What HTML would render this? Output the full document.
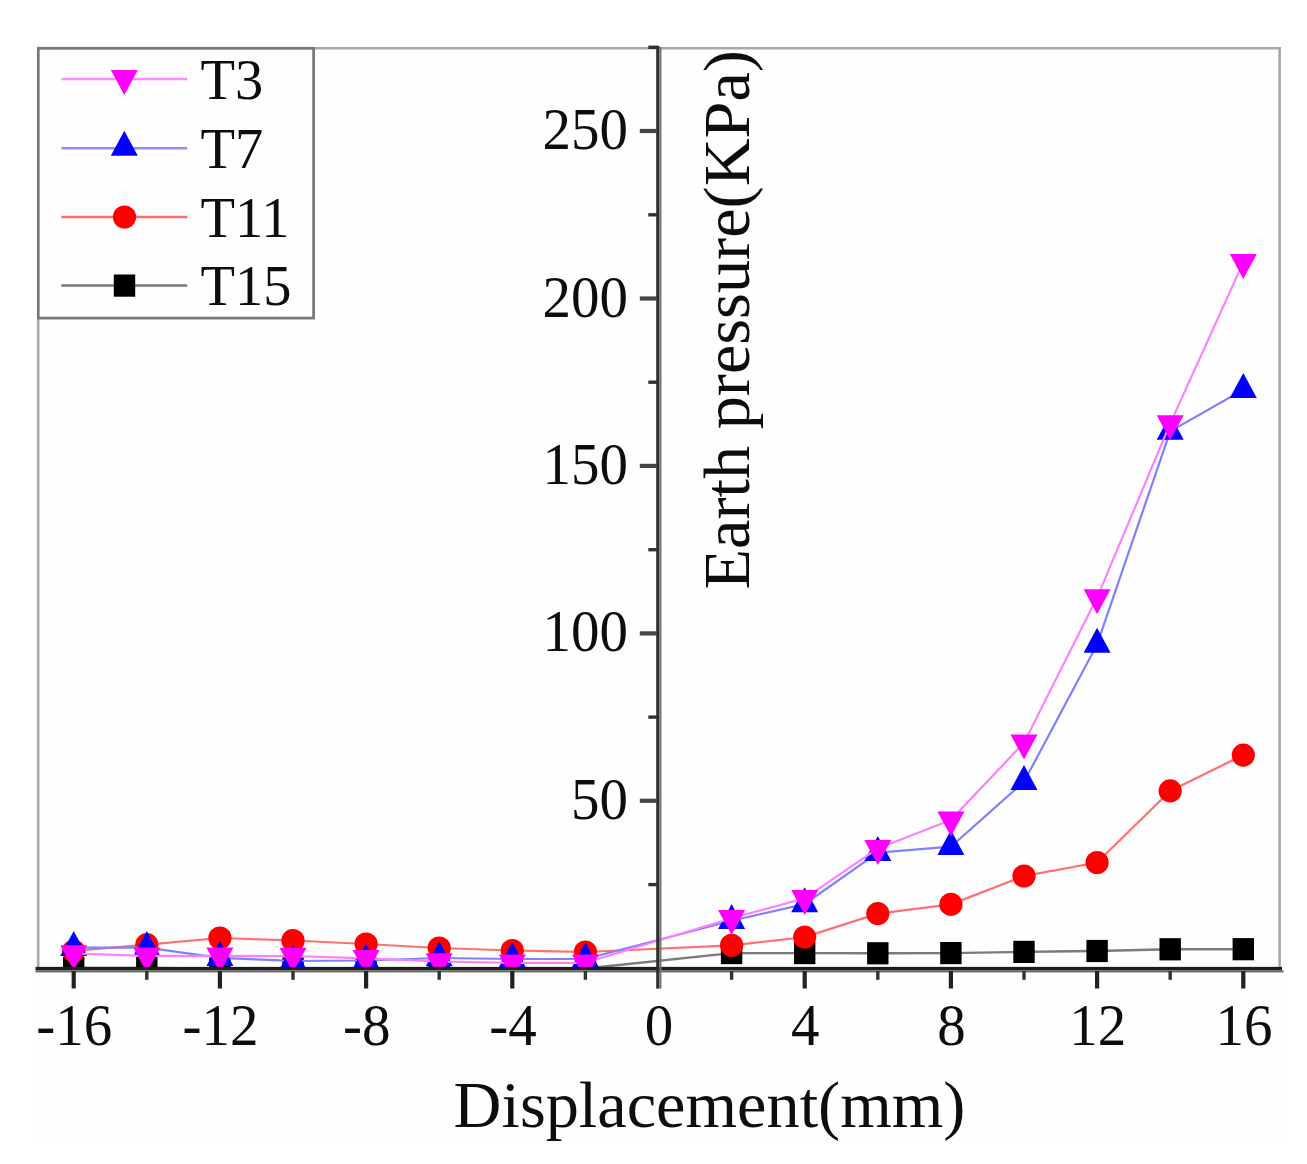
<!DOCTYPE html>
<html><head><meta charset="utf-8"><title>Earth pressure vs displacement</title>
<style>
html,body{margin:0;padding:0;background:#fff;}
body{width:1307px;height:1164px;overflow:hidden;}
svg{display:block;}
text{font-family:"Liberation Serif","Times New Roman",serif;fill:#111;}
.tk{font-size:58.4px;}
.lg{font-size:58px;}
.ti{font-size:66.3px;}
</style></head><body>
<svg width="1307" height="1164" viewBox="0 0 1307 1164">
<rect x="0" y="0" width="1307" height="1164" fill="#ffffff"/>
<rect x="33" y="43" width="1251" height="1100" fill="#fefefe"/>
<defs><clipPath id="plot"><rect x="36" y="47" width="1246" height="922.5"/></clipPath>
<filter id="soft" x="0" y="0" width="1307" height="1164" filterUnits="userSpaceOnUse"><feGaussianBlur stdDeviation="0.65"/></filter></defs>
<g filter="url(#soft)">

<g stroke="#a9a9a9" stroke-width="2.6" fill="none">
<line x1="313" y1="48.2" x2="1281" y2="48.2"/>
<line x1="1279.6" y1="46.9" x2="1279.6" y2="970"/>
<line x1="38.2" y1="318" x2="38.2" y2="968"/>
</g>
<g clip-path="url(#plot)">
<polyline points="73.7,968.0 146.8,968.0 219.9,968.5 293.0,968.5 366.1,968.5 439.2,968.5 512.3,968.5 585.4,968.5 731.6,953.1 804.7,953.1 877.8,953.3 950.9,953.1 1024.0,951.9 1097.1,951.0 1170.2,949.3 1243.3,949.2" fill="none" stroke="#7a7a7a" stroke-width="2.4" stroke-linejoin="round"/>
<rect x="63.0" y="956.9" width="21.4" height="22.2" fill="#000"/>
<rect x="136.1" y="956.9" width="21.4" height="22.2" fill="#000"/>
<rect x="209.2" y="957.4" width="21.4" height="22.2" fill="#000"/>
<rect x="282.3" y="957.4" width="21.4" height="22.2" fill="#000"/>
<rect x="355.4" y="957.4" width="21.4" height="22.2" fill="#000"/>
<rect x="428.5" y="957.4" width="21.4" height="22.2" fill="#000"/>
<rect x="501.6" y="957.4" width="21.4" height="22.2" fill="#000"/>
<rect x="574.7" y="957.4" width="21.4" height="22.2" fill="#000"/>
<rect x="720.9" y="942.0" width="21.4" height="22.2" fill="#000"/>
<rect x="794.0" y="942.0" width="21.4" height="22.2" fill="#000"/>
<rect x="867.1" y="942.2" width="21.4" height="22.2" fill="#000"/>
<rect x="940.2" y="942.0" width="21.4" height="22.2" fill="#000"/>
<rect x="1013.3" y="940.8" width="21.4" height="22.2" fill="#000"/>
<rect x="1086.4" y="939.9" width="21.4" height="22.2" fill="#000"/>
<rect x="1159.5" y="938.2" width="21.4" height="22.2" fill="#000"/>
<rect x="1232.6" y="938.1" width="21.4" height="22.2" fill="#000"/>
<polyline points="73.7,951.0 146.8,944.7 219.9,938.0 293.0,940.5 366.1,944.0 439.2,948.0 512.3,950.5 585.4,952.0 731.6,945.3 804.7,937.1 877.8,913.6 950.9,904.4 1024.0,876.0 1097.1,862.5 1170.2,790.9 1243.3,755.1" fill="none" stroke="#ff7070" stroke-width="2.2" stroke-linejoin="round"/>
<circle cx="73.7" cy="951.0" r="11.6" fill="#ff0000"/>
<circle cx="146.8" cy="944.7" r="11.6" fill="#ff0000"/>
<circle cx="219.9" cy="938.0" r="11.6" fill="#ff0000"/>
<circle cx="293.0" cy="940.5" r="11.6" fill="#ff0000"/>
<circle cx="366.1" cy="944.0" r="11.6" fill="#ff0000"/>
<circle cx="439.2" cy="948.0" r="11.6" fill="#ff0000"/>
<circle cx="512.3" cy="950.5" r="11.6" fill="#ff0000"/>
<circle cx="585.4" cy="952.0" r="11.6" fill="#ff0000"/>
<circle cx="731.6" cy="945.3" r="11.6" fill="#ff0000"/>
<circle cx="804.7" cy="937.1" r="11.6" fill="#ff0000"/>
<circle cx="877.8" cy="913.6" r="11.6" fill="#ff0000"/>
<circle cx="950.9" cy="904.4" r="11.6" fill="#ff0000"/>
<circle cx="1024.0" cy="876.0" r="11.6" fill="#ff0000"/>
<circle cx="1097.1" cy="862.5" r="11.6" fill="#ff0000"/>
<circle cx="1170.2" cy="790.9" r="11.6" fill="#ff0000"/>
<circle cx="1243.3" cy="755.1" r="11.6" fill="#ff0000"/>
<polyline points="73.7,947.6 146.8,947.6 219.9,957.8 293.0,961.0 366.1,960.5 439.2,958.0 512.3,959.0 585.4,959.0 731.6,920.7 804.7,904.0 877.8,852.7 950.9,846.7 1024.0,781.8 1097.1,644.4 1170.2,431.4 1243.3,389.7" fill="none" stroke="#8080ff" stroke-width="2.2" stroke-linejoin="round"/>
<polygon points="60.2,955.9 87.2,955.9 73.7,930.9" fill="#0000ff"/>
<polygon points="133.3,955.9 160.3,955.9 146.8,930.9" fill="#0000ff"/>
<polygon points="206.4,966.1 233.4,966.1 219.9,941.1" fill="#0000ff"/>
<polygon points="279.5,969.3 306.5,969.3 293.0,944.3" fill="#0000ff"/>
<polygon points="352.6,968.8 379.6,968.8 366.1,943.8" fill="#0000ff"/>
<polygon points="425.7,966.3 452.7,966.3 439.2,941.3" fill="#0000ff"/>
<polygon points="498.8,967.3 525.8,967.3 512.3,942.3" fill="#0000ff"/>
<polygon points="571.9,967.3 598.9,967.3 585.4,942.3" fill="#0000ff"/>
<polygon points="718.1,929.0 745.1,929.0 731.6,904.0" fill="#0000ff"/>
<polygon points="791.2,912.3 818.2,912.3 804.7,887.3" fill="#0000ff"/>
<polygon points="864.3,861.0 891.3,861.0 877.8,836.0" fill="#0000ff"/>
<polygon points="937.4,855.0 964.4,855.0 950.9,830.0" fill="#0000ff"/>
<polygon points="1010.5,790.1 1037.5,790.1 1024.0,765.1" fill="#0000ff"/>
<polygon points="1083.6,652.7 1110.6,652.7 1097.1,627.7" fill="#0000ff"/>
<polygon points="1156.7,439.7 1183.7,439.7 1170.2,414.7" fill="#0000ff"/>
<polygon points="1229.8,398.0 1256.8,398.0 1243.3,373.0" fill="#0000ff"/>
<polyline points="73.7,953.5 146.8,955.9 219.9,955.9 293.0,956.0 366.1,958.4 439.2,961.5 512.3,962.8 585.4,962.8 731.6,918.2 804.7,898.3 877.8,848.4 950.9,819.9 1024.0,742.7 1097.1,597.6 1170.2,423.6 1243.3,262.3" fill="none" stroke="#ff80ff" stroke-width="2.2" stroke-linejoin="round"/>
<polygon points="60.2,945.2 87.2,945.2 73.7,970.2" fill="#ff00ff"/>
<polygon points="133.3,947.6 160.3,947.6 146.8,972.6" fill="#ff00ff"/>
<polygon points="206.4,947.6 233.4,947.6 219.9,972.6" fill="#ff00ff"/>
<polygon points="279.5,947.7 306.5,947.7 293.0,972.7" fill="#ff00ff"/>
<polygon points="352.6,950.1 379.6,950.1 366.1,975.1" fill="#ff00ff"/>
<polygon points="425.7,953.2 452.7,953.2 439.2,978.2" fill="#ff00ff"/>
<polygon points="498.8,954.5 525.8,954.5 512.3,979.5" fill="#ff00ff"/>
<polygon points="571.9,954.5 598.9,954.5 585.4,979.5" fill="#ff00ff"/>
<polygon points="718.1,909.9 745.1,909.9 731.6,934.9" fill="#ff00ff"/>
<polygon points="791.2,890.0 818.2,890.0 804.7,915.0" fill="#ff00ff"/>
<polygon points="864.3,840.1 891.3,840.1 877.8,865.1" fill="#ff00ff"/>
<polygon points="937.4,811.6 964.4,811.6 950.9,836.6" fill="#ff00ff"/>
<polygon points="1010.5,734.4 1037.5,734.4 1024.0,759.4" fill="#ff00ff"/>
<polygon points="1083.6,589.3 1110.6,589.3 1097.1,614.3" fill="#ff00ff"/>
<polygon points="1156.7,415.3 1183.7,415.3 1170.2,440.3" fill="#ff00ff"/>
<polygon points="1229.8,254.0 1256.8,254.0 1243.3,279.0" fill="#ff00ff"/>
</g>
<rect x="35.5" y="966.9" width="1246.5" height="3.4" fill="#1f1f1f"/><rect x="35.5" y="970.3" width="1248" height="2.1" fill="#666"/>
<rect x="656.2" y="45.8" width="3.3" height="942.8" fill="#2e2e2e"/><rect x="659.5" y="47" width="2" height="941.6" fill="#787878"/>
<line x1="73.7" y1="971" x2="73.7" y2="988.5" stroke="#222" stroke-width="4.2"/>
<line x1="146.8" y1="971" x2="146.8" y2="979.8" stroke="#333" stroke-width="3.4"/>
<line x1="219.9" y1="971" x2="219.9" y2="988.5" stroke="#222" stroke-width="4.2"/>
<line x1="293.0" y1="971" x2="293.0" y2="979.8" stroke="#333" stroke-width="3.4"/>
<line x1="366.1" y1="971" x2="366.1" y2="988.5" stroke="#222" stroke-width="4.2"/>
<line x1="439.2" y1="971" x2="439.2" y2="979.8" stroke="#333" stroke-width="3.4"/>
<line x1="512.3" y1="971" x2="512.3" y2="988.5" stroke="#222" stroke-width="4.2"/>
<line x1="585.4" y1="971" x2="585.4" y2="979.8" stroke="#333" stroke-width="3.4"/>
<line x1="731.6" y1="971" x2="731.6" y2="979.8" stroke="#333" stroke-width="3.4"/>
<line x1="804.7" y1="971" x2="804.7" y2="988.5" stroke="#222" stroke-width="4.2"/>
<line x1="877.8" y1="971" x2="877.8" y2="979.8" stroke="#333" stroke-width="3.4"/>
<line x1="950.9" y1="971" x2="950.9" y2="988.5" stroke="#222" stroke-width="4.2"/>
<line x1="1024.0" y1="971" x2="1024.0" y2="979.8" stroke="#333" stroke-width="3.4"/>
<line x1="1097.1" y1="971" x2="1097.1" y2="988.5" stroke="#222" stroke-width="4.2"/>
<line x1="1170.2" y1="971" x2="1170.2" y2="979.8" stroke="#333" stroke-width="3.4"/>
<line x1="1243.3" y1="971" x2="1243.3" y2="988.5" stroke="#222" stroke-width="4.2"/>
<line x1="648.3" y1="884.6" x2="657" y2="884.6" stroke="#333" stroke-width="3.4"/>
<line x1="639.8" y1="800.8" x2="657" y2="800.8" stroke="#444" stroke-width="4.2"/>
<line x1="648.3" y1="717.1" x2="657" y2="717.1" stroke="#333" stroke-width="3.4"/>
<line x1="639.8" y1="633.4" x2="657" y2="633.4" stroke="#444" stroke-width="4.2"/>
<line x1="648.3" y1="549.7" x2="657" y2="549.7" stroke="#333" stroke-width="3.4"/>
<line x1="639.8" y1="465.9" x2="657" y2="465.9" stroke="#444" stroke-width="4.2"/>
<line x1="648.3" y1="382.2" x2="657" y2="382.2" stroke="#333" stroke-width="3.4"/>
<line x1="639.8" y1="298.5" x2="657" y2="298.5" stroke="#444" stroke-width="4.2"/>
<line x1="648.3" y1="214.8" x2="657" y2="214.8" stroke="#333" stroke-width="3.4"/>
<line x1="639.8" y1="131.0" x2="657" y2="131.0" stroke="#444" stroke-width="4.2"/>
<line x1="648.3" y1="47.3" x2="657" y2="47.3" stroke="#333" stroke-width="3.4"/>
<text class="tk" transform="translate(628,818.8) scale(0.976,1)" text-anchor="end">50</text>
<text class="tk" transform="translate(628,651.4) scale(0.976,1)" text-anchor="end">100</text>
<text class="tk" transform="translate(628,483.9) scale(0.976,1)" text-anchor="end">150</text>
<text class="tk" transform="translate(628,316.5) scale(0.976,1)" text-anchor="end">200</text>
<text class="tk" transform="translate(628,149.0) scale(0.976,1)" text-anchor="end">250</text>
<text class="tk" transform="translate(74.3,1045.3) scale(0.976,1)" text-anchor="middle">-16</text>
<text class="tk" transform="translate(220.5,1045.3) scale(0.976,1)" text-anchor="middle">-12</text>
<text class="tk" transform="translate(366.7,1045.3) scale(0.976,1)" text-anchor="middle">-8</text>
<text class="tk" transform="translate(512.9,1045.3) scale(0.976,1)" text-anchor="middle">-4</text>
<text class="tk" transform="translate(659.1,1045.3) scale(0.976,1)" text-anchor="middle">0</text>
<text class="tk" transform="translate(805.3,1045.3) scale(0.976,1)" text-anchor="middle">4</text>
<text class="tk" transform="translate(951.5,1045.3) scale(0.976,1)" text-anchor="middle">8</text>
<text class="tk" transform="translate(1097.7,1045.3) scale(0.976,1)" text-anchor="middle">12</text>
<text class="tk" transform="translate(1243.9,1045.3) scale(0.976,1)" text-anchor="middle">16</text>
<text class="ti" x="709.5" y="1126.8" text-anchor="middle">Displacement(mm)</text>
<text class="ti" transform="translate(748.5,319.8) rotate(-90)" text-anchor="middle">Earth pressure(KPa)</text>
<rect x="38.3" y="48.3" width="275.3" height="269.8" fill="#fefefe" stroke="#777" stroke-width="2.7"/>
<line x1="61.4" y1="79" x2="187.2" y2="79" stroke="#ff8cff" stroke-width="2.5"/>
<text class="lg" transform="translate(200.6,99.0) scale(0.974,1)">T3</text>
<line x1="61.4" y1="148.3" x2="187.2" y2="148.3" stroke="#8c8cff" stroke-width="2.5"/>
<text class="lg" transform="translate(200.6,168.0) scale(0.974,1)">T7</text>
<line x1="61.4" y1="217" x2="187.2" y2="217" stroke="#ff6c6c" stroke-width="2.5"/>
<text class="lg" transform="translate(200.6,237.0) scale(0.974,1)">T11</text>
<line x1="61.4" y1="285.6" x2="187.2" y2="285.6" stroke="#777" stroke-width="2.5"/>
<text class="lg" transform="translate(200.6,305.4) scale(0.974,1)">T15</text>
<polygon points="110.8,70.0 137.8,70.0 124.3,95.0" fill="#ff00ff"/>
<polygon points="110.8,155.8 137.8,155.8 124.3,130.8" fill="#0000ff"/>
<circle cx="124.5" cy="217.0" r="11.6" fill="#ff0000"/>
<rect x="113.8" y="274.5" width="21.4" height="22.2" fill="#000"/>
</g>
</svg></body></html>
